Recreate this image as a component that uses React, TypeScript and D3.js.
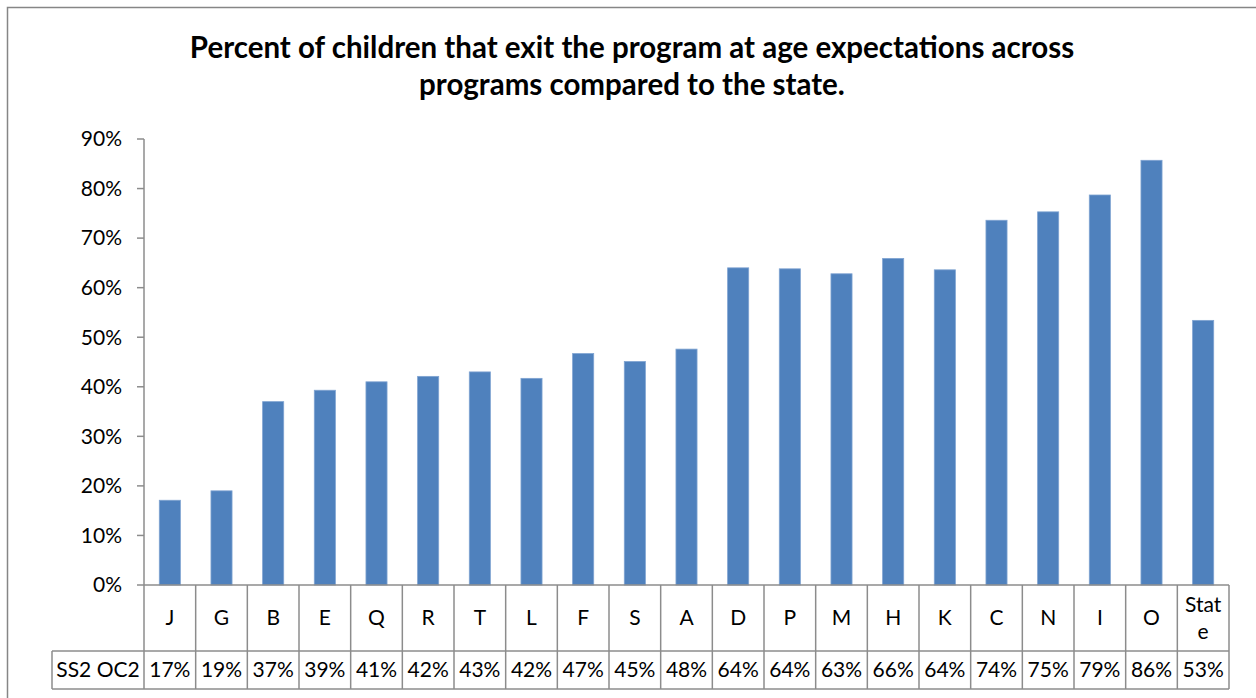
import React from "react";
import * as d3 from "d3";

const categories = ["J","G","B","E","Q","R","T","L","F","S","A","D","P","M","H","K","C","N","I","O","State"];
const values = [0.171,0.19,0.37,0.393,0.41,0.421,0.43,0.417,0.467,0.451,0.476,0.64,0.638,0.628,0.659,0.636,0.736,0.753,0.787,0.857,0.534];
const seriesName = "SS2 OC2";
const yTicks = [0,0.1,0.2,0.3,0.4,0.5,0.6,0.7,0.8,0.9];
const titleLines = ["Percent of children that exit the program at age expectations across","programs compared to the state."];

const W = 1256, H = 698;
const plotLeft = 144, plotRight = 1229, plotTop = 139, plotBottom = 585;
const rowCatBottom = 651, rowDataBottom = 689, labelLeft = 52;
const FONT = "Lato, 'Open Sans', sans-serif";
const LINE = "#8c8c8c";
const FS = 21;

export default function App() {
  const x = d3.scaleBand<string>().domain(categories).range([plotLeft, plotRight]).padding(0);
  const y = d3.scaleLinear().domain([0, 0.9]).range([plotBottom, plotTop]);
  const bw = x.bandwidth();
  const barW = bw / 2.45;
  const fmt = d3.format(".0%");

  return (
    <div style={{ position: "fixed", left: 0, top: 0, width: W, height: H, background: "#fff" }}>
      <svg width={W} height={H} style={{ display: "block" }}>
        <rect x={0} y={0} width={W} height={H} fill="#fff" />
        <rect x={7.5} y={7.5} width={W + 10} height={H + 10} fill="none" stroke="#868686" strokeWidth={1.5} />
        {titleLines.map((t, i) => (
          <text key={i} x={632} y={58 + i * 37} textAnchor="middle" fontFamily={FONT} fontWeight="bold" fontSize={29.5} fill="#000">{t}</text>
        ))}
        {/* bars */}
        {categories.map((c, i) => (
          <rect key={c} x={(x(c) as number) + bw / 2 - barW / 2} y={y(values[i])} width={barW} height={y(0) - y(values[i])}
            fill="#4F81BD" stroke="#7fa3d1" strokeWidth={0.8} />
        ))}
        {/* y axis */}
        <line x1={plotLeft} x2={plotLeft} y1={plotTop} y2={plotBottom} stroke={LINE} strokeWidth={1.5} />
        {yTicks.map((t) => (
          <g key={t}>
            <line x1={plotLeft - 7} x2={plotLeft} y1={y(t)} y2={y(t)} stroke={LINE} strokeWidth={1.5} />
            <text x={122} y={y(t)} dy="0.35em" textAnchor="end" fontFamily={FONT} fontSize={FS} fill="#000">{fmt(t)}</text>
          </g>
        ))}
        {/* table */}
        <line x1={plotLeft} x2={plotRight} y1={plotBottom} y2={plotBottom} stroke={LINE} strokeWidth={1.5} />
        <line x1={labelLeft} x2={plotRight} y1={rowCatBottom} y2={rowCatBottom} stroke={LINE} strokeWidth={1.5} />
        <line x1={labelLeft} x2={plotRight} y1={rowDataBottom} y2={rowDataBottom} stroke={LINE} strokeWidth={1.5} />
        <line x1={labelLeft} x2={labelLeft} y1={rowCatBottom} y2={rowDataBottom} stroke={LINE} strokeWidth={1.5} />
        {[...categories.map((c) => x(c) as number), plotRight].map((px, i) => (
          <line key={i} x1={px} x2={px} y1={plotBottom} y2={rowDataBottom} stroke={LINE} strokeWidth={1.5} />
        ))}
        <text x={(labelLeft + plotLeft) / 2} y={(rowCatBottom + rowDataBottom) / 2} dy="0.35em" textAnchor="middle" fontFamily={FONT} fontSize={FS} fill="#000">{seriesName}</text>
        {categories.map((c, i) => {
          const cx = (x(c) as number) + bw / 2;
          const cy = (plotBottom + rowCatBottom) / 2;
          const parts = c === "State" ? ["Stat", "e"] : [c];
          return (
            <g key={c}>
              {parts.map((p, j) => (
                <text key={j} x={cx} y={cy + (j - (parts.length - 1) / 2) * 27} dy="0.35em" textAnchor="middle" fontFamily={FONT} fontSize={FS} fill="#000">{p}</text>
              ))}
              <text x={cx} y={(rowCatBottom + rowDataBottom) / 2} dy="0.35em" textAnchor="middle" fontFamily={FONT} fontSize={FS} fill="#000">{fmt(values[i])}</text>
            </g>
          );
        })}
      </svg>
    </div>
  );
}
